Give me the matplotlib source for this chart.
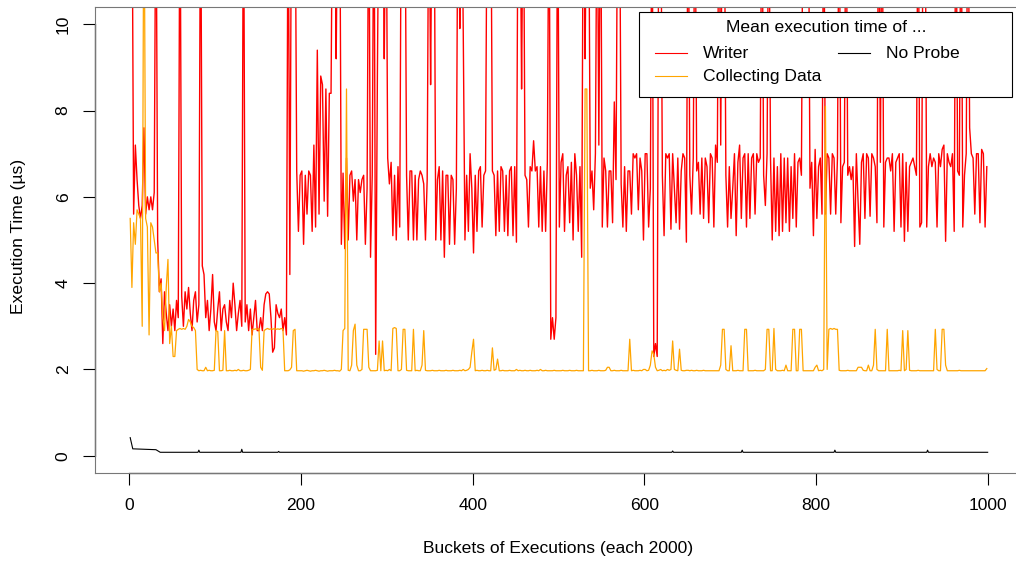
import numpy as np
import matplotlib
matplotlib.use("Agg")
import matplotlib.pyplot as plt
from matplotlib.lines import Line2D
from matplotlib.patches import Rectangle

plt.rcParams['font.family'] = ['Liberation Sans', 'DejaVu Sans']

W, H = 1016, 563

buckets = np.arange(1, 1001, 2)

# Writer, mean execution time in us (14 = off the top of the chart)
writer = [
    14, 14, 5.6, 7.2, 6.4, 5.8, 5.5, 5.8, 7.6, 5.6, 6.0, 5.7, 6.0, 5.7, 6.1, 14, 5.0, 3.8, 4.1, 2.6, 3.8, 3.3, 2.9, 3.5, 3.0,
    3.4, 2.9, 3.6, 3.2, 14, 3.7, 3.0, 3.8, 3.4, 3.9, 3.3, 2.9, 3.6, 3.8, 3.1, 3.5, 14, 4.4, 4.2, 3.2, 3.6, 2.9, 3.4, 4.2, 3.1,
    2.9, 3.4, 3.8, 2.9, 3.4, 3.5, 3.1, 2.9, 3.6, 3.2, 4.0, 3.5, 2.9, 3.3, 3.6, 3.0, 14, 3.1, 3.5, 2.9, 3.4, 2.8, 3.2, 3.6, 2.9,
    2.9, 3.2, 2.9, 3.5, 3.75, 3.8, 3.75, 3.2, 2.4, 2.5, 3.5, 3.3, 3.2, 3.4, 2.9, 3.2, 2.8, 14, 4.2, 14, 14, 14, 6.6, 5.2, 6.5,
    6.6, 4.9, 6.5, 5.6, 6.6, 6.5, 5.2, 7.2, 5.3, 9.4, 5.6, 8.8, 8.6, 5.9, 8.5, 5.55, 8.4, 8.4, 14, 14, 9.2, 14, 14, 4.9, 6.55,
    4.8, 6.9, 5.0, 6.5, 6.6, 5.9, 6.4, 5.0, 6.4, 6.1, 6.4, 6.5, 4.9, 6.2, 14, 4.6, 6.5, 14, 2.35, 8.8, 14, 14, 14, 9.2, 14,
    6.9, 6.3, 6.8, 5.1, 6.5, 5.0, 6.7, 5.3, 14, 14, 14, 6.5, 5.0, 6.6, 6.6, 5.0, 6.5, 5.0, 6.4, 6.6, 6.5, 6.3, 5.0, 6.4, 14,
    8.6, 14, 14, 5.0, 6.4, 6.7, 5.0, 6.6, 4.6, 6.5, 6.5, 4.9, 6.5, 6.4, 4.9, 6.2, 14, 9.9, 14, 9.9, 5.0, 6.5, 5.2, 7.0, 6.2,
    4.7, 6.5, 5.2, 6.6, 6.7, 5.3, 6.5, 6.6, 14, 14, 14, 6.6, 6.5, 5.1, 6.6, 5.2, 6.7, 6.6, 5.2, 6.5, 5.1, 6.6, 6.7, 5.1, 6.7,
    4.95, 14, 14, 8.5, 14, 6.5, 6.4, 5.3, 6.7, 6.6, 7.3, 6.6, 6.7, 5.3, 6.7, 5.2, 6.6, 5.2, 6.8, 14, 2.7, 3.2, 2.7, 3.2, 14,
    5.3, 6.8, 7.0, 5.2, 6.5, 6.7, 5.4, 6.8, 5.0, 7.0, 6.5, 5.2, 6.7, 4.6, 14, 9.2, 14, 14, 6.2, 6.6, 5.7, 7.0, 14, 7.2, 14,
    5.3, 6.9, 6.6, 5.3, 6.6, 6.6, 5.4, 8.2, 6.4, 14, 14, 6.3, 5.3, 6.7, 5.2, 6.6, 6.6, 5.6, 7.0, 6.9, 7.0, 5.7, 6.9, 6.6, 5.0,
    7.0, 7.0, 5.3, 6.2, 14, 2.3, 2.6, 2.3, 14, 14, 6.5, 5.1, 7.0, 6.9, 7.0, 5.25, 7.0, 6.2, 5.4, 6.9, 5.25, 6.6, 7.0, 6.9, 4.95,
    14, 6.5, 5.6, 6.9, 14, 6.6, 6.8, 5.6, 6.9, 5.5, 6.9, 6.7, 5.4, 7.0, 6.9, 5.3, 7.2, 6.8, 14, 7.2, 14, 14, 6.5, 5.3, 6.7,
    5.5, 6.2, 7.0, 5.1, 6.8, 7.2, 5.5, 6.9, 7.0, 5.3, 7.0, 5.5, 6.9, 7.0, 5.6, 7.0, 6.8, 6.9, 14, 6.5, 5.8, 7.0, 14, 6.9, 5.0,
    6.9, 5.2, 6.7, 5.1, 7.0, 5.2, 6.9, 5.4, 6.9, 5.2, 6.7, 5.5, 7.0, 5.3, 6.8, 6.9, 6.5, 14, 14, 14, 14, 6.2, 6.8, 5.1, 7.1,
    5.5, 6.7, 6.9, 5.6, 14, 5.6, 7.0, 6.9, 5.6, 7.0, 6.9, 5.6, 6.9, 14, 5.4, 6.7, 6.8, 14, 6.5, 6.7, 6.4, 6.7, 4.85, 7.0, 5.9,
    4.9, 6.8, 7.0, 5.5, 7.0, 6.9, 5.55, 7.0, 6.9, 6.7, 5.4, 14, 6.8, 14, 5.3, 6.8, 6.9, 6.9, 6.6, 7.0, 5.2, 6.8, 6.9, 7.0, 5.3,
    7.0, 4.97, 6.8, 5.2, 6.7, 6.8, 6.9, 6.7, 6.5, 14, 5.3, 5.4, 14, 14, 5.3, 6.7, 7.0, 6.7, 6.9, 6.8, 5.3, 7.0, 6.7, 7.1, 7.2,
    4.97, 7.0, 6.8, 6.7, 7.0, 5.2, 14, 6.6, 6.5, 14, 5.3, 6.5, 7.0, 14, 7.6, 7.0, 6.9, 5.6, 7.0, 7.0, 5.4, 7.1, 7.0, 5.3, 6.7,
]

# Collecting Data
collecting = [
    5.5, 3.9, 5.4, 4.9, 5.7, 5.6, 5.5, 3.0, 14, 5.5, 5.3, 2.8, 5.4, 5.3, 5.0, 4.7, 4.7, 3.8, 4.0, 3.2, 2.9, 3.9, 4.55, 2.6, 3.0,
    2.3, 2.3, 2.9, 2.93, 2.95, 2.93, 2.95, 2.93, 3.0, 3.16, 3.1, 3.0, 2.97, 2.9, 2.0, 1.97, 1.98, 1.97, 1.97, 2.05, 1.97, 1.98, 1.97, 1.97, 1.98,
    2.9, 2.88, 1.97, 1.97, 1.98, 2.9, 1.97, 1.97, 1.98, 1.97, 1.97, 1.98, 1.97, 2.0, 1.97, 1.97, 1.98, 1.97, 1.97, 1.98, 2.0, 2.93, 2.93, 2.94, 2.93,
    2.95, 2.05, 1.98, 2.9, 2.93, 2.95, 2.93, 2.94, 2.93, 2.95, 2.93, 2.94, 2.93, 2.95, 2.93, 1.97, 1.97, 1.97, 1.99, 2.05, 2.9, 2.93, 1.97, 1.97, 1.97,
    1.97, 1.96, 1.97, 1.98, 1.97, 1.96, 1.97, 1.97, 1.98, 1.97, 1.96, 1.97, 1.97, 1.98, 1.97, 1.96, 1.97, 1.97, 1.97, 1.98, 1.97, 1.97, 1.96, 2.0, 2.9,
    2.95, 8.5, 1.98, 1.97, 2.1, 2.9, 3.05, 2.1, 1.97, 1.97, 2.0, 2.93, 2.93, 2.93, 2.05, 1.97, 1.97, 1.97, 1.97, 1.98, 2.66, 1.97, 2.66, 1.97, 1.98,
    1.97, 2.0, 1.97, 2.95, 2.97, 2.95, 1.97, 1.97, 2.0, 2.93, 2.93, 1.98, 1.97, 1.97, 1.97, 2.93, 1.97, 1.98, 1.97, 1.97, 2.1, 2.9, 1.98, 1.97, 1.97,
    1.97, 1.98, 1.97, 1.97, 1.97, 1.98, 1.97, 1.97, 1.97, 1.98, 1.97, 1.97, 1.97, 1.98, 1.97, 1.97, 1.97, 1.98, 1.97, 2.0, 1.97, 1.98, 2.0, 2.05, 2.4,
    2.7, 1.97, 1.98, 1.97, 1.97, 1.98, 1.97, 1.97, 1.98, 1.97, 1.97, 2.5, 1.98, 2.0, 2.24, 1.97, 1.97, 1.98, 1.97, 1.97, 1.97, 1.98, 1.97, 1.97, 1.97,
    2.0, 1.97, 1.98, 1.97, 1.97, 1.98, 1.97, 1.97, 1.98, 1.97, 1.97, 1.97, 1.98, 1.97, 2.0, 1.97, 1.97, 1.98, 1.97, 1.97, 1.97, 1.97, 1.98, 1.97, 1.97,
    1.97, 1.97, 1.98, 1.97, 1.97, 1.97, 1.98, 1.97, 1.97, 1.97, 1.98, 1.97, 1.97, 1.97, 1.97, 8.5, 8.5, 1.97, 1.97, 1.98, 1.97, 1.97, 1.97, 1.98, 1.97,
    1.97, 1.97, 1.98, 2.05, 2.05, 1.97, 1.97, 1.98, 1.97, 1.97, 1.97, 1.98, 1.97, 1.97, 1.97, 1.97, 2.7, 1.97, 1.98, 1.97, 1.97, 1.97, 1.98, 1.97, 2.0,
    2.0, 1.97, 1.98, 2.1, 2.43, 2.35, 2.05, 1.97, 1.98, 2.0, 1.97, 1.98, 1.97, 2.0, 1.98, 2.0, 2.66, 2.0, 1.98, 1.97, 2.47, 1.98, 1.97, 1.97, 1.98,
    1.98, 1.97, 1.98, 1.97, 1.97, 1.98, 1.97, 1.97, 1.97, 1.98, 1.97, 1.97, 1.97, 1.97, 1.97, 1.97, 1.97, 1.97, 1.97, 2.1, 2.93, 2.93, 2.0, 1.97, 1.97,
    2.55, 1.97, 1.97, 1.97, 1.98, 1.97, 1.97, 1.97, 2.93, 2.93, 1.97, 1.97, 1.97, 1.97, 1.98, 1.97, 1.97, 1.97, 1.97, 1.97, 2.0, 2.93, 2.93, 1.97, 1.97,
    2.95, 2.0, 1.97, 1.97, 1.97, 1.98, 1.97, 2.1, 1.97, 1.97, 1.97, 2.93, 2.93, 1.97, 1.97, 2.93, 2.93, 1.97, 1.97, 1.97, 1.97, 1.97, 1.97, 1.97, 2.05,
    2.1, 1.97, 1.98, 1.97, 2.0, 8.1, 2.0, 2.93, 2.95, 2.93, 2.95, 2.93, 2.93, 1.98, 1.97, 1.97, 1.97, 1.97, 1.98, 1.97, 1.97, 1.97, 1.97, 1.97, 2.05,
    2.05, 2.05, 1.98, 1.97, 1.97, 2.1, 1.97, 1.97, 2.1, 2.93, 2.0, 1.97, 1.97, 1.97, 1.97, 1.97, 2.93, 1.97, 1.97, 1.97, 1.97, 1.97, 1.97, 1.98, 1.97,
    2.9, 1.97, 2.0, 2.9, 1.98, 1.97, 1.97, 1.97, 1.97, 1.98, 1.97, 1.97, 1.97, 1.97, 1.97, 1.97, 1.97, 1.97, 1.97, 2.93, 2.0, 1.97, 1.97, 2.93, 2.93,
    2.1, 1.97, 1.97, 1.97, 1.97, 1.97, 1.97, 1.97, 1.98, 1.97, 1.97, 1.97, 1.97, 1.97, 1.97, 1.97, 1.97, 1.97, 1.97, 1.97, 1.97, 1.97, 1.97, 1.97, 2.02,
]

# No Probe (read at the buckets where it changes)
noprobe_buckets = [1, 4, 31, 36, 80, 81, 82, 130, 131, 132, 173, 174, 175,
                   632, 633, 634, 713, 714, 715, 821, 822, 823, 929, 930, 931, 1000]
noprobe = [0.42, 0.16, 0.14, 0.08, 0.08, 0.13, 0.08, 0.08, 0.15, 0.08, 0.08, 0.1, 0.08,
           0.08, 0.11, 0.08, 0.08, 0.13, 0.08, 0.08, 0.13, 0.08, 0.08, 0.13, 0.08, 0.08]

x_ticks = [0, 200, 400, 600, 800, 1000]
y_ticks = [0, 2, 4, 6, 8, 10]


def fx(px):
    return px / W


def fy(py):
    return 1 - py / H


fig = plt.figure(figsize=(W / 100, H / 100), dpi=100)
ax = fig.add_axes([fx(95), fy(473), fx(1022) - fx(95), fy(7) - fy(473)])

ax.plot(buckets, writer, color='#ff0000', lw=1.0)
ax.plot(buckets, collecting, color='#ffa500', lw=0.9)
ax.plot(noprobe_buckets, noprobe, color='black', lw=0.8)

ax.set_xlim(-40, 1040)
ax.set_ylim(-0.4, 10.4)
ax.set_xticks(x_ticks)
ax.set_yticks(y_ticks)
for s in ax.spines.values():
    s.set_color('#777777')
    s.set_linewidth(0.8)
# axis lines only over the tick range, as R draws them
ax.plot([0, 1000], [-0.4, -0.4], color='black', lw=0.9, clip_on=False)
ax.plot([-40, -40], [0, 10], color='black', lw=0.9, clip_on=False)

fs = 12.6
ax.tick_params(axis='both', direction='out', length=8.5, width=0.8, labelsize=fs)
ax.tick_params(axis='x', pad=9.5)
ax.tick_params(axis='y', pad=9)
for lab in ax.get_yticklabels():
    lab.set_rotation(90)
    lab.set_va('center')
    lab.set_ha('right')

fig.text(fx(558), fy(548), 'Buckets of Executions (each 2000)', ha='center', va='center', fontsize=fs)
fig.text(fx(19), fy(236), 'Execution Time (µs)', ha='center', va='center', rotation=90, fontsize=fs)

# legend box, drawn by hand to keep R's layout
ax.add_patch(Rectangle((fx(639), fy(97)), fx(1012) - fx(639), fy(12) - fy(97), transform=fig.transFigure,
                       facecolor='white', edgecolor='black', lw=0.8, clip_on=False, zorder=5))
ax.text(fx(826), fy(27), 'Mean execution time of ...', transform=fig.transFigure,
        ha='center', va='center', fontsize=fs, zorder=6)
entries = [('Writer', '#ff0000', 655, 703, 53),
           ('Collecting Data', '#ffa500', 655, 703, 76),
           ('No Probe', 'black', 838, 886, 53)]
for name, col, lx, tx, ly in entries:
    ax.add_line(Line2D([fx(lx), fx(lx + 32)], [fy(ly), fy(ly)], transform=fig.transFigure,
                       color=col, lw=0.8, clip_on=False, zorder=6))
    ax.text(fx(tx), fy(ly), name, transform=fig.transFigure, ha='left', va='center', fontsize=fs, zorder=6)

fig.savefig('out.png', dpi=100)
